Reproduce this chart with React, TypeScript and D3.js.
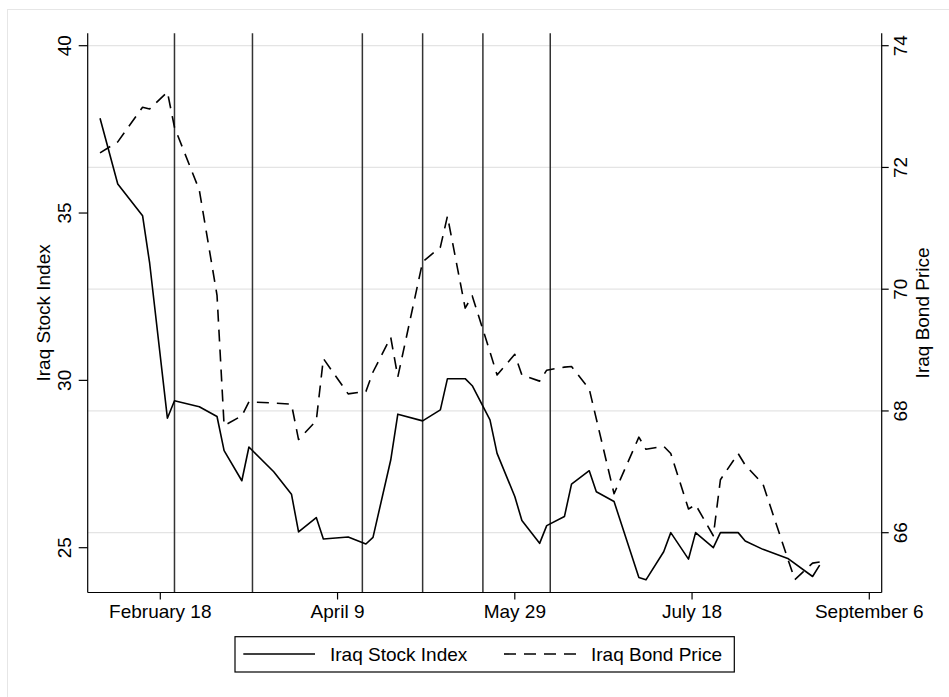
import React from "react";
import * as d3 from "d3";

const stockDates = [
  "2003-02-01","2003-02-06","2003-02-13","2003-02-15","2003-02-20","2003-02-22",
  "2003-03-01","2003-03-06","2003-03-08","2003-03-13","2003-03-15","2003-03-22","2003-03-27","2003-03-29",
  "2003-04-03","2003-04-05","2003-04-12","2003-04-17","2003-04-19","2003-04-24","2003-04-26",
  "2003-05-03","2003-05-08","2003-05-10","2003-05-15","2003-05-17","2003-05-22","2003-05-24","2003-05-29","2003-05-31",
  "2003-06-05","2003-06-07","2003-06-12","2003-06-14","2003-06-19","2003-06-21","2003-06-26",
  "2003-07-03","2003-07-05","2003-07-10","2003-07-12","2003-07-17","2003-07-19","2003-07-24","2003-07-26","2003-07-31",
  "2003-08-02","2003-08-07","2003-08-14","2003-08-21","2003-08-23",
];
const stockValues = [
  37.83, 35.87, 34.92, 33.5, 28.87, 29.39,
  29.21, 28.92, 27.9, 27.0, 28.01, 27.27, 26.6, 25.47,
  25.9, 25.26, 25.32, 25.11, 25.31, 27.62, 28.99,
  28.79, 29.12, 30.05, 30.05, 29.84, 28.82, 27.82, 26.53, 25.81,
  25.13, 25.66, 25.93, 26.9, 27.3, 26.67, 26.38,
  24.11, 24.04, 24.88, 25.45, 24.66, 25.45, 25.0, 25.45, 25.45,
  25.2, 24.95, 24.68, 24.14, 24.48,
];

const bondDates = [
  "2003-02-01","2003-02-06","2003-02-13","2003-02-15","2003-02-20","2003-02-22",
  "2003-03-01","2003-03-06","2003-03-08","2003-03-13","2003-03-15","2003-03-22","2003-03-27","2003-03-29",
  "2003-04-03","2003-04-05","2003-04-12","2003-04-17","2003-04-19","2003-04-24","2003-04-26",
  "2003-05-03","2003-05-08","2003-05-10","2003-05-15","2003-05-17","2003-05-22","2003-05-24","2003-05-29","2003-05-31",
  "2003-06-05","2003-06-07","2003-06-12","2003-06-14","2003-06-19","2003-06-26",
  "2003-07-03","2003-07-05","2003-07-10","2003-07-12","2003-07-17","2003-07-19","2003-07-24","2003-07-26","2003-07-31",
  "2003-08-02","2003-08-07","2003-08-14","2003-08-16","2003-08-21","2003-08-23",
];
const bondValues = [
  72.24, 72.42, 72.99, 72.96, 73.24, 72.66,
  71.63, 69.9, 67.76, 67.92, 68.15, 68.13, 68.11, 67.53,
  67.84, 68.86, 68.28, 68.32, 68.64, 69.21, 68.56,
  70.45, 70.69, 71.2, 69.69, 69.89, 68.97, 68.59, 68.93, 68.59,
  68.49, 68.67, 68.72, 68.73, 68.36, 66.64,
  67.57, 67.37, 67.42, 67.3, 66.39, 66.46, 65.95, 66.87, 67.3,
  67.11, 66.8, 65.57, 65.23, 65.5, 65.52,
];

const eventDates = ["2003-02-22", "2003-03-16", "2003-04-16", "2003-05-03", "2003-05-20", "2003-06-08"];
const xTickDates = ["2003-02-18", "2003-04-09", "2003-05-29", "2003-07-18", "2003-09-06"];
const xTickLabels = ["February 18", "April 9", "May 29", "July 18", "September 6"];
const leftTicks = [25, 30, 35, 40];
const rightTicks = [66, 68, 70, 72, 74];
const seriesNames = ["Iraq Stock Index", "Iraq Bond Price"];
const leftTitle = "Iraq Stock Index";
const rightTitle = "Iraq Bond Price";

const parse = d3.timeParse("%Y-%m-%d");

const W = 949;
const H = 697;
const L = 87.7;
const R = 881.7;
const T = 33.3;
const B = 592.5;
const FONT = "'Liberation Sans', Arial, Helvetica, sans-serif";

export default function App() {
  const x = d3
    .scaleTime()
    .domain([parse("2003-02-18")!, parse("2003-09-06")!])
    .range([160.3, 869.3]);
  const yL = d3.scaleLinear().domain([25, 40]).range([547.7, 45.7]);
  const yR = d3.scaleLinear().domain([66, 74]).range([532.7, 45.7]);

  const stock = stockDates.map((d, i) => ({ d: parse(d)!, v: stockValues[i] }));
  const bond = bondDates.map((d, i) => ({ d: parse(d)!, v: bondValues[i] }));

  const stockLine = d3
    .line<{ d: Date; v: number }>()
    .x((p) => x(p.d))
    .y((p) => yL(p.v));
  const bondLine = d3
    .line<{ d: Date; v: number }>()
    .x((p) => x(p.d))
    .y((p) => yR(p.v));

  const fs = 19;
  const midY = (T + B) / 2;

  return (
    <svg
      width={W}
      height={H}
      style={{ position: "absolute", left: 0, top: 0, background: "#fff" }}
      fontFamily={FONT}
    >
      <rect x={0} y={0} width={W} height={H} fill="#fff" />
      <rect x={7.5} y={9.5} width={W + 10} height={H + 10} fill="none" stroke="#e6e6e6" strokeWidth={1} />

      {rightTicks.map((t) => (
        <line key={"g" + t} x1={L} x2={R} y1={yR(t)} y2={yR(t)} stroke="#e4e4e4" strokeWidth={1.3} />
      ))}

      {eventDates.map((d) => {
        const xx = x(parse(d)!);
        return <line key={d} x1={xx} x2={xx} y1={T} y2={B} stroke="#333" strokeWidth={1.5} />;
      })}

      <path d={stockLine(stock)!} fill="none" stroke="#000" strokeWidth={1.6} strokeLinejoin="round" />
      <path
        d={bondLine(bond)!}
        fill="none"
        stroke="#000"
        strokeWidth={1.6}
        strokeDasharray="12,8"
        strokeLinejoin="round"
      />

      <line x1={L} x2={L} y1={T} y2={B} stroke="#000" strokeWidth={1.2} />
      <line x1={R} x2={R} y1={T} y2={B} stroke="#000" strokeWidth={1.2} />
      <line x1={L} x2={R} y1={B} y2={B} stroke="#000" strokeWidth={1.2} />

      {leftTicks.map((t) => (
        <g key={"l" + t}>
          <line x1={L - 9} x2={L} y1={yL(t)} y2={yL(t)} stroke="#000" strokeWidth={1.2} />
          <text
            transform={`translate(70.7,${yL(t)}) rotate(-90)`}
            textAnchor="middle"
            fontSize={fs}
            fill="#000"
          >
            {t}
          </text>
        </g>
      ))}

      {rightTicks.map((t) => (
        <g key={"r" + t}>
          <line x1={R} x2={R + 7} y1={yR(t)} y2={yR(t)} stroke="#000" strokeWidth={1.2} />
          <text
            transform={`translate(906.7,${yR(t)}) rotate(-90)`}
            textAnchor="middle"
            fontSize={fs}
            fill="#000"
          >
            {t}
          </text>
        </g>
      ))}

      {xTickDates.map((d, i) => {
        const xx = x(parse(d)!);
        return (
          <g key={d}>
            <line x1={xx} x2={xx} y1={B} y2={B + 7} stroke="#000" strokeWidth={1.2} />
            <text x={xx} y={617.5} textAnchor="middle" fontSize={fs} fill="#000">
              {xTickLabels[i]}
            </text>
          </g>
        );
      })}

      <text transform={`translate(49.5,${midY}) rotate(-90)`} textAnchor="middle" fontSize={fs} fill="#000">
        {leftTitle}
      </text>
      <text transform={`translate(928.5,${midY}) rotate(-90)`} textAnchor="middle" fontSize={fs} fill="#000">
        {rightTitle}
      </text>

      <rect x={235} y={636.7} width={499.3} height={35.3} fill="#fff" stroke="#000" strokeWidth={1.2} />
      <line x1={243.3} x2={315} y1={654} y2={654} stroke="#000" strokeWidth={1.6} />
      <text x={330} y={661} fontSize={fs} fill="#000">
        {seriesNames[0]}
      </text>
      <line x1={504} x2={576} y1={654} y2={654} stroke="#000" strokeWidth={1.6} strokeDasharray="12,8" />
      <text x={591} y={661} fontSize={fs} fill="#000">
        {seriesNames[1]}
      </text>
    </svg>
  );
}
